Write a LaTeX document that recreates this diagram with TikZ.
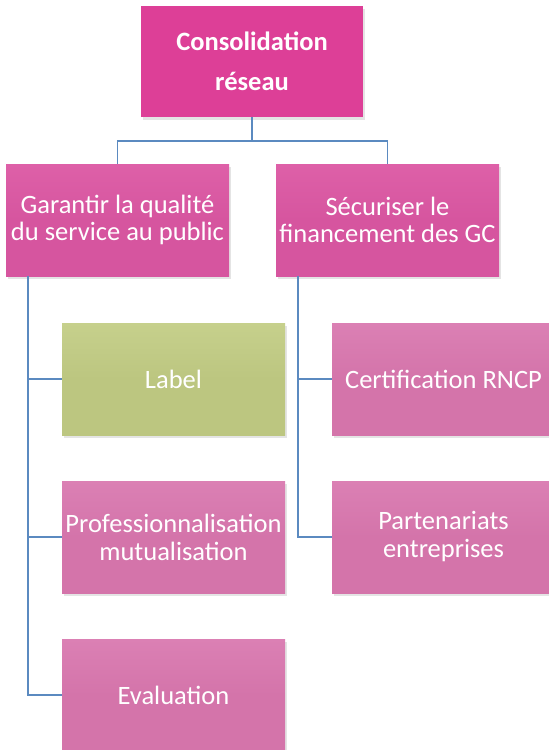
\documentclass[tikz,border=0pt]{standalone}
\usepackage{fontspec}
\setmainfont{Carlito}
\usetikzlibrary{shadows,positioning}
\definecolor{topc}{HTML}{DD3F97}
\definecolor{midc}{HTML}{D6559F}
\definecolor{midtop}{HTML}{DE60A8}
\definecolor{lowc}{HTML}{D474AA}
\definecolor{lowtop}{HTML}{DB80B4}
\definecolor{grnc}{HTML}{BCC680}
\definecolor{grntop}{HTML}{C6D08C}
\definecolor{linec}{HTML}{5B8AC0}
\begin{document}
\begin{tikzpicture}[x=1pt,y=-1pt,
  base/.style={rectangle, inner sep=0pt, align=center, text=white,
    minimum width=223pt, minimum height=112pt,
    drop shadow={shadow xshift=2pt, shadow yshift=-3pt, opacity=0.15, fill=black!70}},
  topbox/.style={base, fill=topc, minimum width=222pt, minimum height=111pt,
    font=\fontsize{26.5}{40}\selectfont\bfseries},
  midbox/.style={base, top color=midtop, bottom color=midc, middle color=midc,
    font=\fontsize{26.5}{27}\selectfont},
  lowbox/.style={base, top color=lowtop, bottom color=lowc, middle color=lowc,
    font=\fontsize{26.5}{28}\selectfont},
  grnbox/.style={base, top color=grntop, bottom color=grnc, middle color=grnc,
    font=\fontsize{26.5}{28}\selectfont},
  conn/.style={draw=linec, line width=1.6pt}]
\useasboundingbox (0,0) rectangle (549,750);
\fill[white] (0,0) rectangle (549,750);
\node[topbox] (top) at (252,61.5) {Consolidation\\réseau};
\node[midbox] (ga) at (117.5,220) {Garantir la qualité\\du service au public};
\node[midbox] (se) at (387.5,220) {Sécuriser le\\financement des GC};
\node[grnbox] (lab) at (173.5,379) {Label};
\node[lowbox] (pro) at (173.5,537) {Professionnalisation\\mutualisation};
\node[lowbox] (eva) at (173.5,695) {Evaluation};
\node[lowbox] (cer) at (443.5,379) {Certification RNCP};
\node[lowbox] (par) at (443.5,537) {Partenariats\\entreprises};
\draw[conn] (top.south) -- ++(0,24) -| (ga.north);
\draw[conn] (top.south) -- ++(0,24) -| (se.north);
\draw[conn] ([xshift=22pt]ga.south west) |- (lab.west);
\draw[conn] ([xshift=22pt]ga.south west) |- (pro.west);
\draw[conn] ([xshift=22pt]ga.south west) |- (eva.west);
\draw[conn] ([xshift=22pt]se.south west) |- (cer.west);
\draw[conn] ([xshift=22pt]se.south west) |- (par.west);
\end{tikzpicture}
\end{document}
